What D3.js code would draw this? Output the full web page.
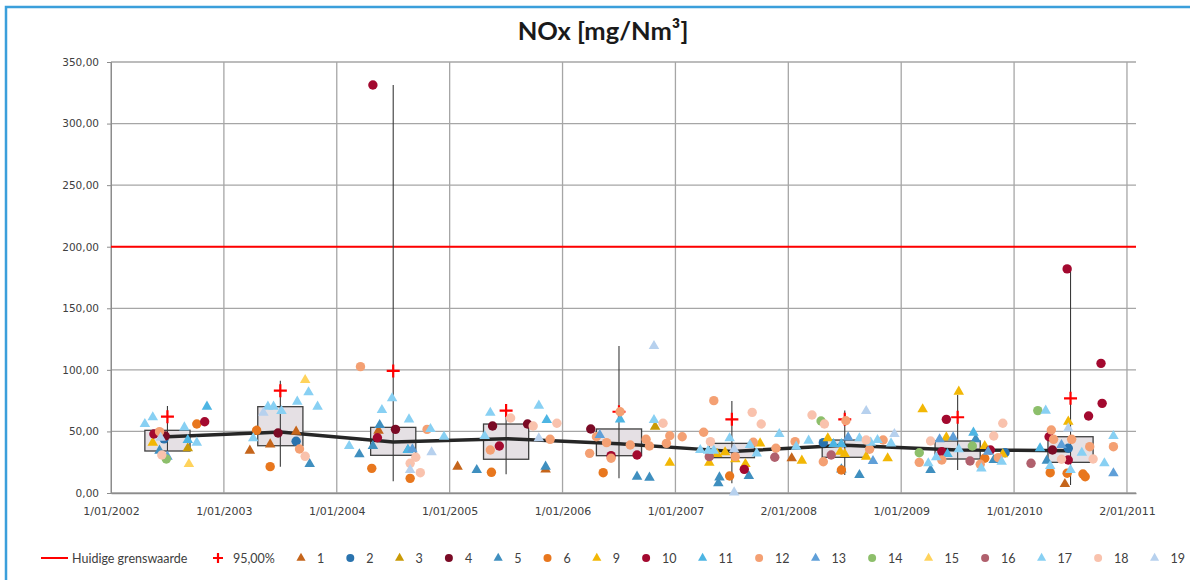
<!DOCTYPE html>
<html>
<head>
<meta charset="utf-8">
<script src="https://cdn.jsdelivr.net/npm/d3@7"></script>
<style>
  body { margin: 0; background: #fff; }
  svg { display: block; }
</style>
</head>
<body>
<svg id="chart" width="1190" height="580"></svg>
<script>
// tick labels and limit
var xTickYears = [2002, 2003, 2004, 2005, 2006, 2007, 2008, 2009, 2010, 2011];
var xTickLabels = ["1/01/2002", "1/01/2003", "1/01/2004", "1/01/2005", "1/01/2006",
                   "1/01/2007", "2/01/2008", "1/01/2009", "1/01/2010", "2/01/2011"];
var yTicks = [0, 50, 100, 150, 200, 250, 300, 350];
var limitValue = 200;

// yearly statistics (box = 25-75%, whisker = min-max)
var years = [2002, 2003, 2004, 2005, 2006, 2007, 2008, 2009, 2010];
var boxLow = [34.1, 38.4, 30.6, 27.4, 30.3, 28.7, 29.0, 27.6, 24.9];
var boxHigh = [50.9, 70.1, 53.3, 56.0, 52.0, 40.3, 43.0, 42.2, 45.7];
var whiskLow = [25.4, 21.4, 9.5, 15.2, 11.9, 7.9, 14.6, 18.7, 6.5];
var whiskHigh = [70.6, 91.2, 331.3, 67.0, 119.4, 74.7, 66.9, 79.6, 182.0];
var p95 = [62.0, 83.1, 99.1, 66.9, 66.0, 59.8, 59.8, 61.5, 76.9];
var trend = [45.7, 49.5, 41.5, 44.1, 40.0, 33.8, 38.7, 34.9, 34.4];

// measurements per series: [date as decimal year, value]
var s1 = [[2003.23,34.4],[2003.41,39.5],[2003.64,49.8],[2004.37,50.6],[2005.07,21.4],[2005.85,19.2],[2008.03,28.2],[2010.45,7.3]];
var s2 = [[2002.47,44.0],[2003.64,42.0],[2008.31,40.9],[2009.92,32.7],[2010.48,36.3]];
var s3 = [[2002.68,36.3],[2006.82,53.9]];
var s4 = [[2002.48,46.3],[2003.48,48.7],[2004.52,51.7],[2005.38,54.4],[2005.69,56.0],[2006.25,52.0],[2010.34,34.9]];
var s5 = [[2002.43,34.4],[2003.76,23.5],[2004.20,31.4],[2004.32,38.2],[2004.38,55.2],[2004.63,34.9],[2005.24,18.7],[2005.85,21.4],
          [2006.66,13.3],[2006.77,12.5],[2007.38,7.9],[2007.39,12.7],[2007.65,13.8],[2008.47,19.2],[2008.63,14.6],[2009.26,18.7],
          [2009.66,43.6],[2009.82,26.8],[2010.29,26.3]];
var s6 = [[2002.76,56.0],[2003.29,50.9],[2003.41,21.4],[2004.31,20.0],[2004.65,11.9],[2005.37,16.8],[2006.36,16.5],[2007.48,13.8],
          [2008.47,18.7],[2009.74,28.2],[2010.32,16.5],[2010.47,16.0],[2010.61,15.4],[2010.63,13.2]];
var s9 = [[2002.37,40.9],[2006.95,24.6],[2007.30,24.6],[2007.37,31.7],[2007.44,33.1],[2007.53,27.4],[2007.62,23.5],[2007.75,40.3],
          [2008.12,26.3],[2008.35,44.4],[2008.46,33.5],[2008.50,31.7],[2008.69,29.5],[2008.88,28.2],[2009.19,68.0],[2009.51,82.3],
          [2009.40,45.2],[2009.74,38.2],[2009.90,31.4],[2010.48,57.9]];
var s10 = [[2002.38,47.9],[2002.83,57.9],[2004.32,331.3],[2004.36,44.9],[2005.44,38.2],[2006.43,30.3],[2006.66,30.9],[2007.61,19.2],
           [2009.40,59.8],[2009.36,33.5],[2009.79,34.9],[2010.31,45.7],[2010.48,26.8],[2010.47,182.0],[2010.66,62.5],[2010.78,72.8],
           [2010.77,105.3]];
var s11 = [[2002.85,70.1],[2002.68,43.0],[2004.63,34.9],[2005.86,59.3],[2006.51,59.8],[2008.40,39.8],[2008.47,39.8],[2009.41,31.7],
           [2009.64,49.0],[2010.23,36.3]];
var s12 = [[2002.43,49.8],[2003.67,35.7],[2004.21,102.6],[2004.80,51.7],[2005.36,34.9],[2005.89,43.6],[2006.24,32.2],[2006.30,45.7],
           [2006.39,40.9],[2006.43,28.2],[2006.51,66.0],[2006.60,39.0],[2006.74,43.6],[2006.77,38.2],[2006.92,40.3],[2006.95,46.5],
           [2007.06,45.7],[2007.34,75.0],[2007.25,49.3],[2007.53,29.5],[2007.69,41.2],[2007.89,36.3],[2008.06,41.7],[2008.31,25.4],
           [2008.51,58.7],[2008.72,35.5],[2008.84,43.0],[2009.16,24.9],[2009.36,26.8],[2009.70,23.3],[2009.86,28.7],[2010.33,51.2],
           [2010.35,43.6],[2010.51,43.6],[2010.67,37.6],[2010.88,37.6]];
var s13 = [[2002.50,29.5],[2004.67,35.5],[2006.33,47.1],[2008.53,45.2],[2008.75,26.0],[2009.34,43.6],[2009.46,45.2],[2009.77,33.5],
           [2010.42,39.0],[2010.88,16.0]];
var s14 = [[2002.49,27.6],[2008.29,58.5],[2009.16,32.7],[2009.63,38.2],[2010.21,66.9]];
var s15 = [[2002.69,23.5],[2003.72,91.8]];
var s16 = [[2007.30,29.5],[2007.88,29.0],[2008.38,30.9],[2009.61,26.0],[2010.15,24.1]];
var s17 = [[2002.30,56.0],[2002.37,61.5],[2002.65,53.3],[2002.76,40.9],[2003.26,44.4],[2003.39,70.1],[2003.44,70.1],[2003.51,66.6],
           [2003.65,74.2],[2003.75,81.8],[2003.83,70.1],[2004.11,38.2],[2004.40,67.4],[2004.49,76.9],[2004.64,59.8],[2004.83,52.0],
           [2004.95,45.7],[2005.31,46.3],[2005.36,65.2],[2005.79,70.9],[2006.81,59.3],[2007.22,34.9],[2007.29,34.4],[2007.34,34.4],
           [2007.48,44.4],[2007.66,39.0],[2007.72,32.2],[2007.92,47.9],[2008.07,37.6],[2008.18,42.5],[2008.63,44.4],[2008.73,40.9],
           [2008.79,43.0],[2008.91,40.3],[2009.24,24.1],[2009.31,29.0],[2009.51,35.5],[2009.71,20.0],[2009.89,25.4],[2010.28,66.9],
           [2010.32,21.9],[2010.50,18.7],[2010.60,32.7],[2010.80,24.1],[2010.88,46.3]];
var s18 = [[2002.45,30.9],[2003.72,29.8],[2004.70,29.0],[2004.65,24.1],[2004.74,16.5],[2005.54,60.9],[2005.74,54.4],[2005.95,56.6],
           [2006.89,56.6],[2007.31,41.7],[2007.68,65.5],[2007.76,56.0],[2008.21,63.3],[2008.32,56.0],[2008.69,43.0],[2009.26,42.2],
           [2009.82,46.3],[2009.90,56.6],[2010.42,27.4],[2010.70,27.6]];
var s19 = [[2002.44,44.9],[2003.35,65.2],[2004.65,18.7],[2004.84,33.1],[2005.79,44.4],[2006.81,119.4],[2007.52,35.5],[2007.52,0.5],
           [2008.69,66.6],[2008.94,47.9],[2010.48,52.5]];

var seriesNames = ["1", "2", "3", "4", "5", "6", "9", "10", "11", "12", "13", "14", "15", "16", "17", "18", "19"];
var seriesData = [s1, s2, s3, s4, s5, s6, s9, s10, s11, s12, s13, s14, s15, s16, s17, s18, s19];
var seriesShapes = ["tri", "dot", "tri", "dot", "tri", "dot", "tri", "dot", "tri", "dot", "tri", "dot", "tri", "dot", "tri", "dot", "tri"];
var seriesColors = ["#c5651b", "#2a73ae", "#c99a06", "#7a0a25", "#3f8fbf", "#e8771e", "#f2b705", "#a3092f", "#4db5e3",
                    "#f4a073", "#5f9fd8", "#8dbf6b", "#ffd35c", "#b0606d", "#88d0f3", "#f9c2ad", "#b7d1ee"];

var svg = d3.select("#chart");

// frame
svg.append("rect").attr("x", 6).attr("y", 7).attr("width", 1400).attr("height", 700)
    .attr("fill", "none").attr("stroke", "#3b9fdb").attr("stroke-width", 2.5);

var x = d3.scaleLinear().domain([2002, 2011.08]).range([111, 1136]);
var y = d3.scaleLinear().domain([0, 350]).range([493, 62]);

svg.append("text").attr("x", 603).attr("y", 40).attr("text-anchor", "middle")
    .attr("font-family", "Lato, 'Open Sans', sans-serif").attr("font-weight", "bold")
    .attr("font-size", "25.5px").attr("fill", "#1a1a1a").text("NOx [mg/Nm³]");

var fmt = function (d) { return d3.format(".2f")(d).replace(".", ","); };

// grid
svg.append("g").selectAll("line").data(yTicks).enter().append("line")
    .attr("x1", 111).attr("x2", 1136)
    .attr("y1", function (d) { return y(d); }).attr("y2", function (d) { return y(d); })
    .attr("stroke", "#a6a6a6").attr("stroke-width", 1.3);
svg.append("g").selectAll("line").data(xTickYears).enter().append("line")
    .attr("x1", function (d) { return x(d); }).attr("x2", function (d) { return x(d); })
    .attr("y1", y(0)).attr("y2", y(350))
    .attr("stroke", "#a6a6a6").attr("stroke-width", 1.3);

var yAxis = d3.axisLeft(y).tickValues(yTicks).tickFormat(fmt).tickSize(4).tickPadding(8);
var gy = svg.append("g").attr("transform", "translate(111,0)").call(yAxis);
gy.select(".domain").attr("stroke", "#8c8c8c");
gy.selectAll(".tick line").attr("stroke", "#8c8c8c");
gy.selectAll("text").attr("font-family", "'DejaVu Sans', Verdana, sans-serif").attr("font-size", "10.5px").attr("fill", "#404040");

var xAxis = d3.axisBottom(x).tickValues(xTickYears)
    .tickFormat(function (d, i) { return xTickLabels[i]; }).tickSize(0).tickPadding(14);
var gx = svg.append("g").attr("transform", "translate(0," + y(0) + ")").call(xAxis);
gx.select(".domain").attr("stroke", "#8c8c8c").attr("stroke-width", 1.3);
gx.selectAll("text").attr("font-family", "'DejaVu Sans', Verdana, sans-serif").attr("font-size", "11px").attr("fill", "#404040");

// limit value
svg.append("line").attr("x1", 111).attr("x2", 1136).attr("y1", y(limitValue)).attr("y2", y(limitValue))
    .attr("stroke", "#ff0000").attr("stroke-width", 2);

var stats = years.map(function (yr, i) {
    return {year: yr, lo: boxLow[i], hi: boxHigh[i], wlo: whiskLow[i], whi: whiskHigh[i], p: p95[i], t: trend[i]};
});

// boxes and whiskers
svg.append("g").selectAll("rect").data(stats).enter().append("rect")
    .attr("x", function (d) { return x(d.year + 0.3); })
    .attr("width", function (d) { return x(d.year + 0.7) - x(d.year + 0.3); })
    .attr("y", function (d) { return y(d.hi); })
    .attr("height", function (d) { return y(d.lo) - y(d.hi); })
    .attr("fill", "#e5e0e4").attr("stroke", "#404040").attr("stroke-width", 1.3);
svg.append("g").selectAll("line").data(stats).enter().append("line")
    .attr("x1", function (d) { return x(d.year + 0.5); }).attr("x2", function (d) { return x(d.year + 0.5); })
    .attr("y1", function (d) { return y(d.whi); }).attr("y2", function (d) { return y(d.wlo); })
    .attr("stroke", "#3a3a3a").attr("stroke-width", 1.1);

// trend
var line = d3.line().x(function (d) { return x(d.year + 0.5); }).y(function (d) { return y(d.t); });
svg.append("path").datum(stats).attr("d", line).attr("fill", "none")
    .attr("stroke", "#262626").attr("stroke-width", 3.5).attr("stroke-linejoin", "round");

// 95 percentile crosses
function cross(g, size) {
    g.append("path").attr("d", "M" + (-size) + ",0H" + size + "M0," + (-size) + "V" + size)
        .attr("stroke", "#ff0000").attr("stroke-width", 2.2).attr("fill", "none");
}
svg.append("g").selectAll("g").data(stats).enter().append("g")
    .attr("transform", function (d) { return "translate(" + x(d.year + 0.5) + "," + y(d.p) + ")"; })
    .each(function () { cross(d3.select(this), 6.5); });

// measurements
var tri = d3.symbol().type(d3.symbolTriangle).size(48);
var triSmall = d3.symbol().type(d3.symbolTriangle).size(36);

function drawMarker(g, shape, color, small) {
    if (shape == "tri") {
        g.append("path").attr("d", small ? triSmall() : tri()).attr("fill", color);
    } else {
        g.append("circle").attr("r", small ? 4 : 4.7).attr("fill", color);
    }
}

seriesData.forEach(function (data, i) {
    svg.append("g").selectAll("g").data(data).enter().append("g")
        .attr("transform", function (d) { return "translate(" + x(d[0]) + "," + y(d[1]) + ")"; })
        .each(function () { drawMarker(d3.select(this), seriesShapes[i], seriesColors[i], false); });
});

// legend (fixed digit width so the row fits like the original)
var legend = svg.append("g").attr("font-family", "Lato, 'Open Sans', sans-serif").attr("font-size", "12.5px").attr("fill", "#404040");
var ly = 558;
var lx = 41;
legend.append("line").attr("x1", lx).attr("x2", lx + 27).attr("y1", ly).attr("y2", ly)
    .attr("stroke", "#ff0000").attr("stroke-width", 2);
legend.append("text").attr("x", lx + 31).attr("y", ly + 4.5).text("Huidige grenswaarde");
lx = 218;

var gc = legend.append("g").attr("transform", "translate(" + lx + "," + ly + ")");
cross(gc, 5);
legend.append("text").attr("x", lx + 15).attr("y", ly + 4.5).text("95,00%");
lx = 301;

seriesNames.forEach(function (name, i) {
    var g = legend.append("g").attr("transform", "translate(" + lx + "," + ly + ")");
    drawMarker(g, seriesShapes[i], seriesColors[i], true);
    legend.append("text").attr("x", lx + 16).attr("y", ly + 4.5).text(name);
    lx = lx + 42.1 + name.length * 7.2;
});
</script>
</body>
</html>
